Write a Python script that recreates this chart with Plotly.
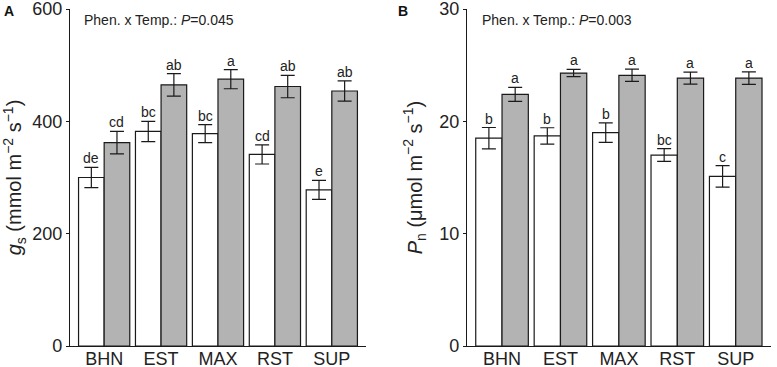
import plotly.graph_objects as go
from plotly.subplots import make_subplots

categories = ["BHN", "EST", "MAX", "RST", "SUP"]

# Panel A: stomatal conductance g_s
gs_white = [300, 382, 378, 341, 278]
gs_white_err = [18, 18, 16, 17, 17]
gs_gray = [362, 465, 475, 462, 454]
gs_gray_err = [20, 20, 17, 20, 18]
gs_white_lab = ["de", "bc", "bc", "cd", "e"]
gs_gray_lab = ["cd", "ab", "a", "ab", "ab"]

# Panel B: net photosynthesis P_n
pn_white = [18.5, 18.7, 19.0, 17.0, 15.1]
pn_white_err = [0.95, 0.73, 0.87, 0.57, 0.95]
pn_gray = [22.4, 24.3, 24.1, 23.85, 23.85]
pn_gray_err = [0.63, 0.32, 0.55, 0.53, 0.56]
pn_white_lab = ["b", "b", "b", "bc", "c"]
pn_gray_lab = ["a", "a", "a", "a", "a"]

FONT = "Liberation Sans, Arial, sans-serif"
LINE = "#1a1a1a"
GRAY = "#b3b3b3"
W, H = 777, 367
TOP, BOT = 9, 346

fig = make_subplots(rows=1, cols=2)

def add_panel(col, wv, we, gv, ge, wl, gl):
    for vals, errs, fill, off in [(wv, we, "white", -0.225), (gv, ge, GRAY, 0.225)]:
        fig.add_trace(go.Bar(
            x=list(range(len(categories))), y=vals, offset=off - 0.225, width=0.45,
            marker=dict(color=fill, line=dict(color=LINE, width=1.2)),
            error_y=dict(type="data", array=errs, visible=True, color=LINE,
                         thickness=1.2, width=7),
            showlegend=False, hoverinfo="skip",
        ), row=1, col=col)
    xref = "x" if col == 1 else "x2"
    yref = "y" if col == 1 else "y2"
    for i in range(len(categories)):
        for vals, errs, labs, off in [(wv, we, wl, -0.225), (gv, ge, gl, 0.225)]:
            fig.add_annotation(
                x=i + off, y=vals[i] + errs[i], xref=xref, yref=yref,
                text=labs[i], showarrow=False, yanchor="bottom", yshift=-1,
                font=dict(family=FONT, size=14, color="#222"),
            )

add_panel(1, gs_white, gs_white_err, gs_gray, gs_gray_err, gs_white_lab, gs_gray_lab)
add_panel(2, pn_white, pn_white_err, pn_gray, pn_gray_err, pn_white_lab, pn_gray_lab)

axis_common = dict(showline=True, linecolor=LINE, linewidth=1.2, showgrid=False,
                   zeroline=False, tickfont=dict(family=FONT, size=18, color="#222"),
                   automargin=False, ticklabeloverflow="allow")

fig.update_xaxes(**axis_common, ticks="", ticklabelstandoff=-4, range=[-0.6, 4.6],
                 tickmode="array", tickvals=list(range(5)), ticktext=categories)
fig.update_xaxes(domain=[0.0901, 0.471], row=1, col=1)
fig.update_xaxes(domain=[0.601, 0.992], row=1, col=2)

fig.update_yaxes(**axis_common, ticks="outside", ticklen=3, tickwidth=1.2, tickcolor=LINE)
fig.update_yaxes(range=[0, 600], tickvals=[0, 200, 400, 600], row=1, col=1,
                 title=dict(text="<i>g</i><sub>s</sub> (mmol m<sup>−2</sup> s<sup>−1</sup>)",
                            font=dict(family=FONT, size=20, color="#222"), standoff=14))
fig.update_yaxes(range=[0, 30], tickvals=[0, 10, 20, 30], row=1, col=2,
                 title=dict(text="<i>P</i><sub>n</sub> (μmol m<sup>−2</sup> s<sup>−1</sup>)",
                            font=dict(family=FONT, size=20, color="#222"), standoff=11))

def px(x):
    return x / W

def py(y):
    return 1 - (y - TOP) / (BOT - TOP)

panel_texts = [
    (82, 20, "Phen. x Temp.: <i>P</i>=0.045", 14, "#222"),
    (480, 20, "Phen. x Temp.: <i>P</i>=0.003", 14, "#222"),
    (2, 11, "<b>A</b>", 14, "#111"),
    (396, 11, "<b>B</b>", 14, "#111"),
]
for x, y, t, s, c in panel_texts:
    fig.add_annotation(x=px(x), y=py(y), xref="paper", yref="paper", xanchor="left",
                       yanchor="middle", showarrow=False, text=t,
                       font=dict(family=FONT, size=s, color=c))

fig.update_layout(width=W, height=H, margin=dict(l=0, r=0, t=TOP, b=H - BOT),
                  plot_bgcolor="white", paper_bgcolor="white",
                  barmode="overlay")

fig.write_html("out.html", config={"displayModeBar": False},
               post_script="document.body.style.margin='0';")
